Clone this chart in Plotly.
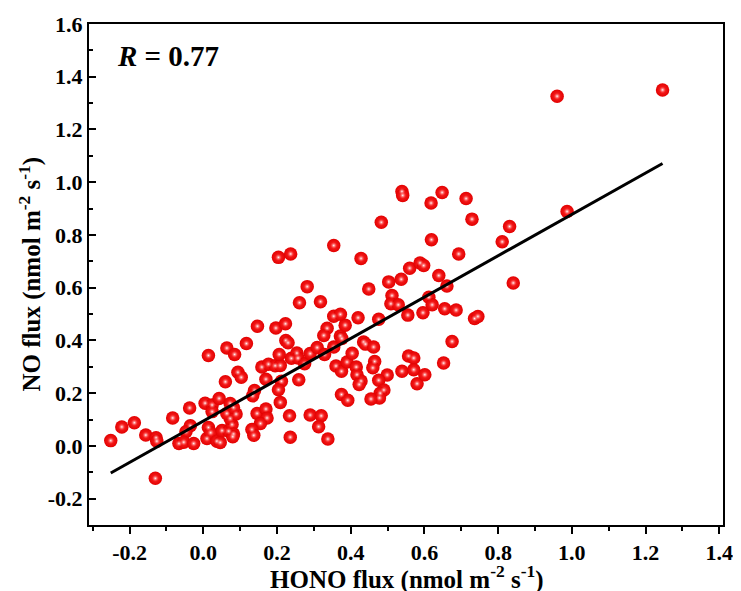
import plotly.graph_objects as go

# HONO flux (x) and NO flux (y), nmol m-2 s-1
hono_flux = [
    -0.251, -0.221, -0.187, -0.156, -0.128, -0.126, -0.130, -0.083, -0.037, -0.035,
    -0.047, -0.066, -0.053, -0.026,
    0.005, 0.024, 0.043, 0.024, 0.010, 0.014, 0.020, 0.037, 0.046, 0.051,
    0.069, 0.078, 0.082, 0.080, 0.073, 0.064, 0.089, 0.082, 0.073, 0.060,
    0.094, 0.103, 0.014, 0.064, 0.085,
    0.117, 0.147, 0.159, 0.177, 0.195, 0.209, 0.170, 0.139, 0.134, 0.146,
    0.170, 0.173, 0.155, 0.132, 0.137, 0.197,
    0.223, 0.224, 0.230, 0.206, 0.239, 0.254, 0.257, 0.275, 0.212, 0.259,
    0.204, 0.209, 0.234, 0.236, 0.204, 0.237, 0.261, 0.282, 0.290, 0.290,
    0.320, 0.313, 0.338, 0.318, 0.309, 0.329, 0.354, 0.336, 0.327, 0.372,
    0.376, 0.385, 0.354, 0.372, 0.354, 0.360, 0.375, 0.390, 0.375, 0.392,
    0.404, 0.415, 0.417, 0.428, 0.423, 0.435, 0.440, 0.462, 0.465, 0.460,
    0.499, 0.476, 0.490, 0.480, 0.478, 0.455, 0.420, 0.476, 0.428, 0.449,
    0.483,
    0.503, 0.537, 0.512, 0.509, 0.529, 0.555, 0.560, 0.539, 0.541, 0.588,
    0.598, 0.596, 0.557, 0.571, 0.539, 0.571, 0.580, 0.601,
    0.612, 0.621, 0.618, 0.619, 0.639, 0.648, 0.655, 0.661, 0.675, 0.652,
    0.686, 0.693, 0.713, 0.729, 0.736, 0.745,
    0.811, 0.831, 0.841, 0.960, 0.987, 1.246,
]
no_flux = [
    0.020, 0.072, 0.088, 0.041, 0.031, 0.018, -0.123, 0.106, 0.144, 0.076,
    0.054, 0.009, 0.014, 0.009,
    0.162, 0.155, 0.180, 0.130, 0.028, 0.070, 0.050, 0.018, 0.013, 0.058,
    0.056, 0.081, 0.045, 0.035, 0.104, 0.123, 0.121, 0.145, 0.161, 0.243,
    0.279, 0.260, 0.343, 0.371, 0.347,
    0.388, 0.454, 0.299, 0.310, 0.304, 0.305, 0.253, 0.210, 0.190, 0.123,
    0.140, 0.106, 0.085, 0.062, 0.040, 0.447,
    0.463, 0.400, 0.391, 0.347, 0.332, 0.352, 0.333, 0.312, 0.245, 0.251,
    0.213, 0.165, 0.114, 0.033, 0.715, 0.728, 0.543, 0.604, 0.117, 0.350,
    0.114, 0.073, 0.026, 0.547, 0.373, 0.347, 0.375, 0.446, 0.419, 0.417,
    0.407, 0.458, 0.492, 0.499, 0.760, 0.303, 0.283, 0.318, 0.195, 0.173,
    0.351, 0.299, 0.270, 0.246, 0.233, 0.394, 0.386, 0.375, 0.320, 0.296,
    0.269, 0.249, 0.212, 0.200, 0.182, 0.178, 0.486, 0.480, 0.711, 0.595,
    0.848,
    0.622, 0.632, 0.570, 0.539, 0.535, 0.496, 0.674, 0.965, 0.950, 0.694,
    0.684, 0.505, 0.341, 0.333, 0.283, 0.289, 0.236, 0.270,
    0.564, 0.535, 0.921, 0.782, 0.646, 0.961, 0.520, 0.606, 0.396, 0.314,
    0.515, 0.728, 0.938, 0.860, 0.483, 0.491,
    0.774, 0.832, 0.618, 1.326, 0.889, 1.350,
]

fit_slope = 0.784
fit_intercept = 0.094
r_text = "<i>R</i> = 0.77"

x_title = "HONO flux (nmol m<sup>-2</sup> s<sup>-1</sup>)"
y_title = "NO flux (nmol m<sup>-2</sup> s<sup>-1</sup>)"
x_ticks = [-0.2, 0.0, 0.2, 0.4, 0.6, 0.8, 1.0, 1.2, 1.4]
x_tick_text = ["-0.2", "0.0", "0.2", "0.4", "0.6", "0.8", "1.0", "1.2", "1.4"]
y_ticks = [-0.2, 0.0, 0.2, 0.4, 0.6, 0.8, 1.0, 1.2, 1.4, 1.6]
y_tick_text = ["-0.2", "0.0", "0.2", "0.4", "0.6", "0.8", "1.0", "1.2", "1.4", "1.6"]

FONT = "Liberation Serif, Times New Roman, serif"

fit_x = [min(hono_flux), max(hono_flux)]
fit_y = [fit_intercept + fit_slope * v for v in fit_x]

fig = go.Figure()
# spheres: red body with radial shading
fig.add_trace(go.Scatter(
    x=hono_flux, y=no_flux, mode="markers",
    marker=dict(size=13.5, color="#e20000",
                gradient=dict(type="radial", color="#ff2a2a"),
                line=dict(width=0)),
    showlegend=False,
))
# specular highlight
fig.add_trace(go.Scatter(
    x=hono_flux, y=no_flux, mode="markers",
    marker=dict(size=7, color="rgba(255,60,60,0)",
                gradient=dict(type="radial", color="rgba(255,255,255,1)"),
                line=dict(width=0)),
    showlegend=False, hoverinfo="skip",
))
fig.add_trace(go.Scatter(
    x=fit_x, y=fit_y, mode="lines",
    line=dict(color="black", width=3),
    showlegend=False,
))

fig.add_annotation(
    text=r_text, xref="paper", yref="paper", x=0.043, y=0.937,
    xanchor="left", yanchor="middle", showarrow=False, borderpad=0,
    font=dict(family=FONT, size=29, color="black", weight="bold"),
)
# axis titles
fig.add_annotation(
    text=x_title, xref="paper", yref="paper", x=0.502, y=-0.104,
    xanchor="center", yanchor="middle", showarrow=False,
    font=dict(family=FONT, size=25, color="black", weight="bold"),
)
fig.add_annotation(
    text=y_title, xref="paper", yref="paper", x=-0.093, y=0.50,
    xanchor="center", yanchor="middle", showarrow=False, textangle=-90,
    font=dict(family=FONT, size=25, color="black", weight="bold"),
)

axis_common = dict(
    showline=True, linecolor="black", linewidth=2, mirror=True,
    showgrid=False, zeroline=False, automargin=False,
    tickfont=dict(family=FONT, size=22, color="black", weight="bold"),
    tickcolor="black", tickwidth=2, ticklen=7,
)

fig.update_xaxes(
    **axis_common, range=[-0.31, 1.41], tickvals=x_ticks, ticktext=x_tick_text,
    ticks="outside",
    minor=dict(dtick=0.1, tick0=0, ticks="outside", ticklen=4, tickwidth=2, tickcolor="black"),
)
fig.update_yaxes(
    **axis_common, range=[-0.3, 1.6], tickvals=y_ticks, ticktext=y_tick_text,
    ticks="inside",
    minor=dict(dtick=0.1, tick0=0, ticks="inside", ticklen=4, tickwidth=2, tickcolor="black"),
)

# the page adds an 8 px body margin: figure is 8 px smaller, left/top margins shifted
fig.update_layout(
    width=733, height=583,
    margin=dict(l=81, r=18, t=16, b=66),
    plot_bgcolor="white", paper_bgcolor="white",
)

fig.write_html("out.html")
